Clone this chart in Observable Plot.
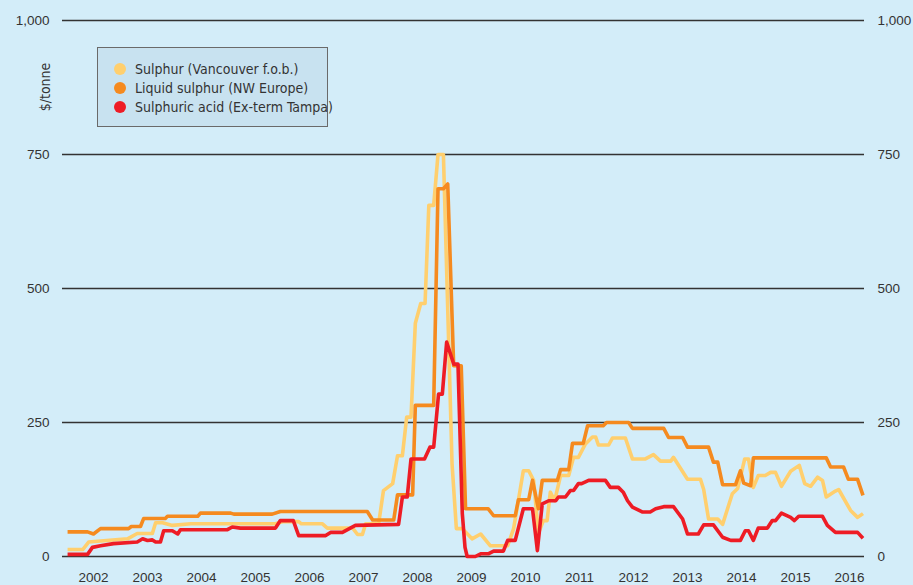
<!DOCTYPE html>
<html>
<head>
<meta charset="utf-8">
<script src="https://cdn.jsdelivr.net/npm/d3@7"></script>
<script src="https://cdn.jsdelivr.net/npm/@observablehq/plot@0.6"></script>
<style>
  body { margin: 0; background: #D3EDF9; }
  #wrap { position: relative; width: 913px; height: 585px; background: #D3EDF9; overflow: hidden; }
  #ylabel { position: absolute; left: 45px; top: 87px; transform: translate(-50%, -50%) rotate(-90deg);
    font-family: "Liberation Sans Narrow", "DejaVu Sans Condensed", "Liberation Sans", sans-serif; font-size: 14px; color: #333; white-space: nowrap; }
  #legend { position: absolute; left: 97px; top: 47px; width: 231px; height: 80px; box-sizing: border-box;
    background: #C8E2F0; border: 1px solid #6a6a6a;
    font-family: "Liberation Sans Narrow", "DejaVu Sans Condensed", "Liberation Sans", sans-serif; font-size: 14px; color: #333; }
  .item { position: absolute; left: 0; height: 18px; line-height: 18px; white-space: nowrap; }
  .dot { position: absolute; left: 16px; top: 3px; width: 12px; height: 12px; border-radius: 50%; }
  .lbl { position: absolute; left: 37px; top: 0; }
</style>
</head>
<body>
<div id="wrap"></div>
<script>
// Series names and colours
const seriesNames = ["Sulphur (Vancouver f.o.b.)", "Liquid sulphur (NW Europe)", "Sulphuric acid (Ex-term Tampa)"];
const seriesColors = ["#FFCF6E", "#F58A1F", "#EE1C25"];

// [decimal year, $/tonne]
const vancouver = [[2001.52,13],[2001.80,13],[2001.91,27],[2002.63,33],[2002.81,43],[2003.09,43],[2003.15,63],[2003.28,63],[2003.46,58],[2003.80,61],[2005.37,61],[2005.50,65],[2005.80,65],[2005.85,61],[2006.24,61],[2006.33,53],[2006.80,53],[2006.89,41],[2006.98,41],[2007.04,61],[2007.28,61],[2007.37,123],[2007.54,136],[2007.63,188],[2007.72,188],[2007.80,260],[2007.88,260],[2007.96,435],[2008.06,472],[2008.14,472],[2008.21,655],[2008.30,655],[2008.38,750],[2008.48,750],[2008.64,173],[2008.72,52],[2008.83,52],[2009.01,33],[2009.17,42],[2009.35,20],[2009.67,20],[2009.78,52],[2009.96,160],[2010.06,160],[2010.15,142],[2010.24,43],[2010.33,67],[2010.40,67],[2010.46,120],[2010.54,104],[2010.65,151],[2010.80,151],[2010.89,185],[2010.98,185],[2011.11,210],[2011.24,223],[2011.30,223],[2011.35,208],[2011.54,208],[2011.61,221],[2011.85,221],[2011.98,182],[2012.22,182],[2012.37,190],[2012.50,178],[2012.69,178],[2012.74,185],[2013.00,144],[2013.24,144],[2013.30,125],[2013.39,70],[2013.56,70],[2013.65,60],[2013.83,117],[2013.93,127],[2014.06,182],[2014.13,182],[2014.22,129],[2014.31,151],[2014.44,151],[2014.54,157],[2014.63,157],[2014.74,131],[2014.91,159],[2015.07,170],[2015.17,136],[2015.28,131],[2015.41,148],[2015.50,142],[2015.57,111],[2015.74,122],[2015.80,125],[2016.02,86],[2016.15,73],[2016.25,80]];

const nwEurope = [[2001.52,46],[2001.89,46],[2002.00,42],[2002.13,52],[2002.65,52],[2002.70,56],[2002.87,56],[2002.93,71],[2003.33,71],[2003.37,75],[2003.93,75],[2003.98,81],[2004.54,81],[2004.60,79],[2005.31,79],[2005.46,84],[2007.07,84],[2007.17,68],[2007.56,68],[2007.63,115],[2007.91,115],[2007.96,282],[2008.30,282],[2008.38,686],[2008.48,686],[2008.56,695],[2008.67,356],[2008.81,356],[2008.89,89],[2009.31,89],[2009.41,76],[2009.81,76],[2009.87,106],[2010.06,106],[2010.13,142],[2010.24,89],[2010.31,142],[2010.59,142],[2010.65,162],[2010.80,162],[2010.87,211],[2011.07,211],[2011.15,244],[2011.44,244],[2011.50,250],[2011.91,250],[2011.98,239],[2012.56,239],[2012.65,222],[2012.91,222],[2013.00,204],[2013.39,204],[2013.48,176],[2013.56,176],[2013.65,134],[2013.89,134],[2013.98,160],[2014.04,137],[2014.17,132],[2014.22,184],[2015.57,184],[2015.65,167],[2015.89,167],[2015.98,144],[2016.15,144],[2016.25,114]];

const tampa = [[2001.52,4],[2001.89,4],[2001.98,17],[2002.13,20],[2002.37,24],[2002.81,27],[2002.91,33],[2003.00,30],[2003.09,31],[2003.15,27],[2003.24,27],[2003.30,48],[2003.46,48],[2003.56,42],[2003.61,50],[2004.48,50],[2004.57,55],[2004.72,53],[2005.37,53],[2005.46,67],[2005.70,67],[2005.80,39],[2006.30,39],[2006.39,45],[2006.61,45],[2006.85,58],[2007.65,60],[2007.72,111],[2007.81,111],[2007.88,182],[2008.13,182],[2008.23,204],[2008.30,204],[2008.39,303],[2008.46,303],[2008.54,400],[2008.67,359],[2008.75,359],[2008.83,80],[2008.88,17],[2008.92,0],[2009.07,0],[2009.17,5],[2009.31,5],[2009.41,10],[2009.59,10],[2009.67,30],[2009.81,30],[2009.96,89],[2010.13,89],[2010.22,11],[2010.31,98],[2010.43,104],[2010.56,104],[2010.61,111],[2010.74,111],[2010.83,123],[2010.89,123],[2010.98,136],[2011.04,136],[2011.17,142],[2011.48,142],[2011.57,129],[2011.72,129],[2011.81,120],[2011.89,104],[2011.98,92],[2012.17,83],[2012.31,83],[2012.41,89],[2012.56,93],[2012.74,93],[2012.91,70],[2013.00,42],[2013.20,42],[2013.30,59],[2013.48,59],[2013.65,36],[2013.80,30],[2013.98,30],[2014.07,48],[2014.13,48],[2014.22,30],[2014.31,53],[2014.48,53],[2014.57,67],[2014.63,67],[2014.74,81],[2014.91,73],[2014.98,67],[2015.06,75],[2015.50,75],[2015.59,58],[2015.74,45],[2016.15,45],[2016.25,34]];

const yearTicks = [2002,2003,2004,2005,2006,2007,2008,2009,2010,2011,2012,2013,2014,2015,2016];
const valueTicks = [0, 250, 500, 750, 1000];

const allSeries = [vancouver, nwEurope, tampa];
const rows = allSeries.flatMap((s, i) => s.map(([year, value]) => ({series: seriesNames[i], year, value})));

const lineMark = (i) => Plot.line(rows.filter(d => d.series === seriesNames[i]), {
  x: "year", y: "value", stroke: seriesColors[i], strokeWidth: 3.6, strokeLinejoin: "round", strokeLinecap: "butt"
});

const chart = Plot.plot({
  width: 913,
  height: 585,
  marginLeft: 62,
  marginRight: 49,
  marginTop: 20,
  marginBottom: 29,
  x: {domain: [2001.426, 2016.278]},
  y: {domain: [0, 1000]},
  style: {background: "transparent", fontFamily: "'Liberation Sans', Arial, sans-serif", fontSize: "13.5px", color: "#333", overflow: "visible"},
  marks: [
    Plot.ruleY(valueTicks, {stroke: "#333", strokeWidth: 1.6}),
    lineMark(0),
    lineMark(1),
    lineMark(2),
    Plot.axisX({ticks: yearTicks, tickFormat: d => String(d), tickSize: 0, tickPadding: 16, label: null}),
    Plot.axisY({anchor: "left", ticks: valueTicks, tickFormat: d3.format(","), tickSize: 0, tickPadding: 13, label: null}),
    Plot.axisY({anchor: "right", ticks: valueTicks, tickFormat: d3.format(","), tickSize: 0, tickPadding: 13, label: null})
  ]
});

const wrap = document.getElementById("wrap");
wrap.appendChild(chart);

const yl = document.createElement("div");
yl.id = "ylabel";
yl.textContent = "$/tonne";
wrap.appendChild(yl);

const lg = document.createElement("div");
lg.id = "legend";
seriesNames.forEach((name, i) => {
  const it = document.createElement("div");
  it.className = "item";
  it.style.top = (12 + i * 19) + "px";
  const dot = document.createElement("span");
  dot.className = "dot";
  dot.style.background = seriesColors[i];
  const t = document.createElement("span");
  t.className = "lbl";
  t.textContent = name;
  it.appendChild(dot);
  it.appendChild(t);
  lg.appendChild(it);
});
wrap.appendChild(lg);
</script>
</body>
</html>
